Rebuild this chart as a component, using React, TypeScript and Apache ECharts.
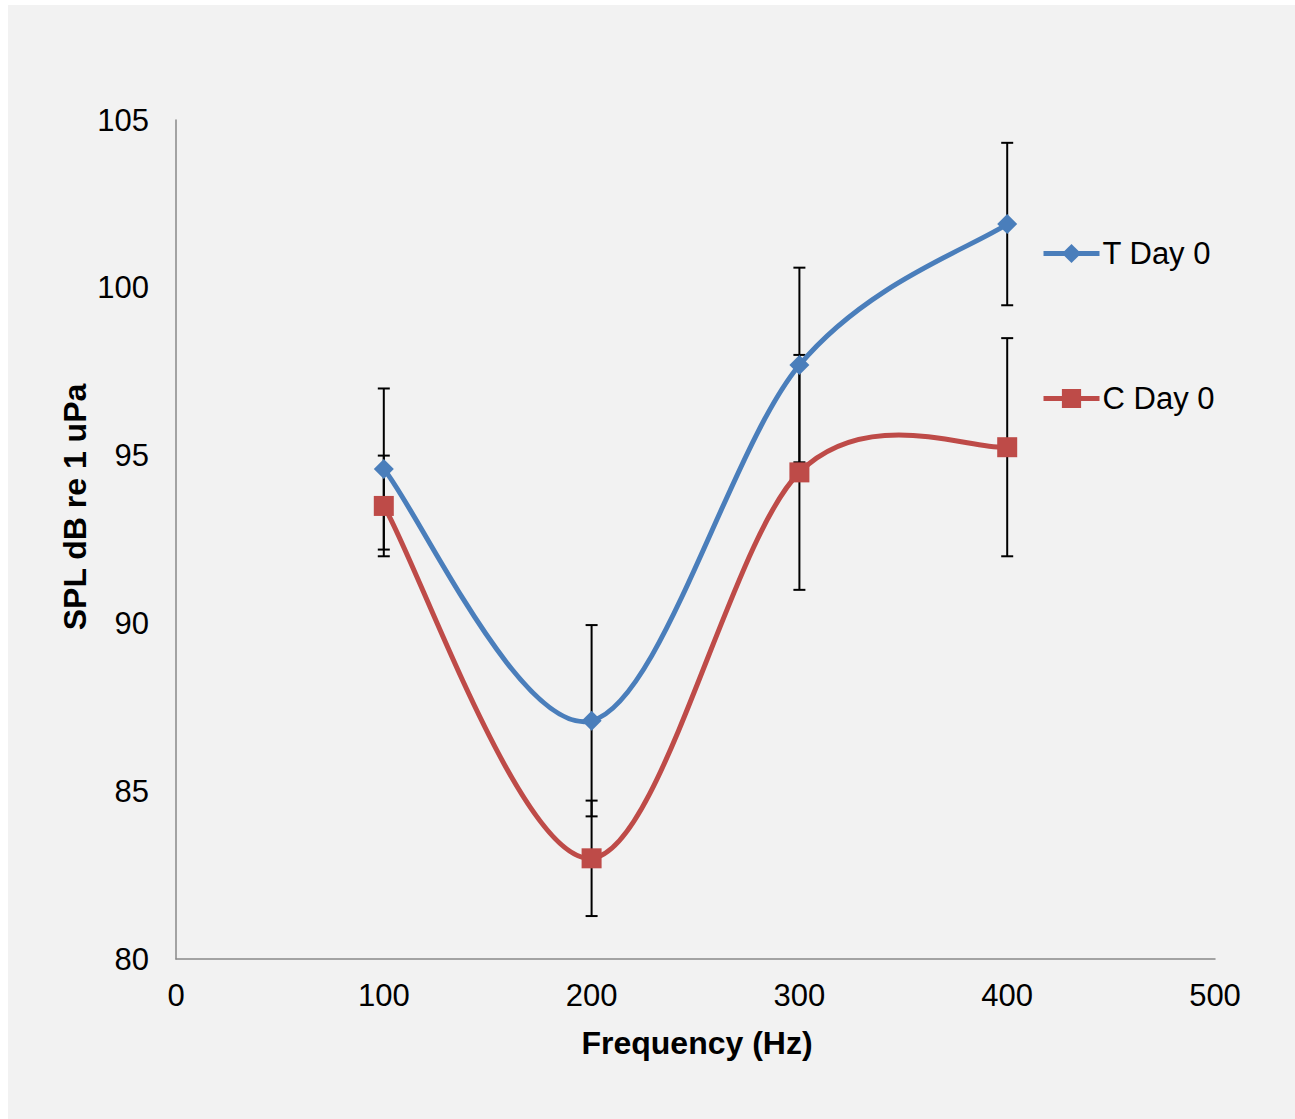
import React, { useEffect, useRef } from "react";
import * as echarts from "echarts";

const frequencies = [100, 200, 300, 400];
const tValues = [94.6, 87.1, 97.7, 101.9];
const tErrors = [2.4, 2.85, 2.9, 2.42];
const cValues = [93.5, 83.0, 94.5, 95.25];
const cErrors = [1.5, 1.72, 3.5, 3.25];
const xTicks = [0, 100, 200, 300, 400, 500];
const yTicks = [80, 85, 90, 95, 100, 105];
const seriesNames = ["T Day 0", "C Day 0"];
const xTitle = "Frequency (Hz)";
const yTitle = "SPL dB re 1 uPa";

const FONT = "'Liberation Sans', Arial, sans-serif";
const BLUE = "#4a7ebb";
const RED = "#be4b48";

function errorData(values: number[], errs: number[]) {
  return frequencies.map((f, i) => [f, values[i] - errs[i], values[i] + errs[i]]);
}

function renderErrorBar(params: any, api: any) {
  const x = api.value(0);
  const lo = api.coord([x, api.value(1)]);
  const hi = api.coord([x, api.value(2)]);
  const hw = 6;
  const style = { stroke: "#000", lineWidth: 2 };
  return {
    type: "group",
    children: [
      { type: "line", shape: { x1: lo[0], y1: lo[1], x2: hi[0], y2: hi[1] }, style },
      { type: "line", shape: { x1: lo[0] - hw, y1: lo[1], x2: lo[0] + hw, y2: lo[1] }, style },
      { type: "line", shape: { x1: hi[0] - hw, y1: hi[1], x2: hi[0] + hw, y2: hi[1] }, style },
    ],
  };
}

// Excel-style smoothed line (Catmull-Rom Bezier, 1/6 tangents)
function makeCurveRenderer(values: number[], color: string) {
  const n = values.length;
  return function (params: any, api: any) {
    const i = params.dataIndex;
    if (i >= n - 1) return { type: "group", children: [] };
    const pts = frequencies.map((f, k) => api.coord([f, values[k]]));
    const tan = (k: number) => {
      const prev = pts[Math.max(0, k - 1)];
      const next = pts[Math.min(n - 1, k + 1)];
      return [(next[0] - prev[0]) / 6, (next[1] - prev[1]) / 6];
    };
    const p0 = pts[i];
    const p1 = pts[i + 1];
    const m0 = tan(i);
    const m1 = tan(i + 1);
    return {
      type: "bezierCurve",
      shape: {
        x1: p0[0],
        y1: p0[1],
        cpx1: p0[0] + m0[0],
        cpy1: p0[1] + m0[1],
        cpx2: p1[0] - m1[0],
        cpy2: p1[1] - m1[1],
        x2: p1[0],
        y2: p1[1],
      },
      style: { stroke: color, lineWidth: 5, fill: "none", lineCap: "round" },
    };
  };
}

export default function App() {
  const ref = useRef<HTMLDivElement>(null);
  useEffect(() => {
    if (!ref.current) return;
    const chart = echarts.init(ref.current, null, { renderer: "svg" });
    chart.setOption({
      animation: false,
      backgroundColor: "#f2f2f2",
      textStyle: { fontFamily: FONT },
      grid: { left: 168, top: 115, width: 1039, height: 839, containLabel: false },
      xAxis: {
        type: "value",
        min: xTicks[0],
        max: xTicks[xTicks.length - 1],
        interval: 100,
        axisLine: { show: true, lineStyle: { color: "#898989", width: 1.5 } },
        axisTick: { show: false },
        splitLine: { show: false },
        axisLabel: { color: "#000", fontSize: 31, fontFamily: FONT, margin: 21 },
      },
      yAxis: {
        type: "value",
        min: yTicks[0],
        max: yTicks[yTicks.length - 1],
        interval: 5,
        axisLine: { show: true, lineStyle: { color: "#898989", width: 1.5 } },
        axisTick: { show: false },
        splitLine: { show: false },
        axisLabel: { color: "#000", fontSize: 31, fontFamily: FONT, margin: 27 },
      },
      legend: {
        orient: "vertical",
        left: 1033,
        top: 233,
        padding: 0,
        itemWidth: 56,
        itemHeight: 24,
        itemGap: 114,
        data: seriesNames,
        lineStyle: { width: 5, opacity: 1 },
        textStyle: { color: "#000", fontSize: 31, fontFamily: FONT, lineHeight: 30, padding: [0, 0, 0, -2] },
      },
      graphic: [
        {
          type: "text",
          x: 689,
          y: 1038,
          style: {
            text: xTitle,
            fill: "#000",
            font: `bold 32px ${FONT}`,
            textAlign: "center",
            textVerticalAlign: "middle",
          },
        },
        {
          type: "text",
          x: 67,
          y: 502,
          rotation: Math.PI / 2,
          style: {
            text: yTitle,
            fill: "#000",
            font: `bold 32px ${FONT}`,
            textAlign: "center",
            textVerticalAlign: "middle",
          },
        },
      ],
      series: [
        {
          type: "custom",
          name: "T err",
          renderItem: renderErrorBar,
          data: errorData(tValues, tErrors),
          encode: { x: 0, y: [1, 2] },
          z: 1,
        },
        {
          type: "custom",
          name: "C err",
          renderItem: renderErrorBar,
          data: errorData(cValues, cErrors),
          encode: { x: 0, y: [1, 2] },
          z: 1,
        },
        {
          type: "custom",
          name: "T curve",
          renderItem: makeCurveRenderer(tValues, BLUE),
          data: frequencies.map((f, i) => [f, tValues[i]]),
          encode: { x: 0, y: 1 },
          z: 2,
        },
        {
          type: "custom",
          name: "C curve",
          renderItem: makeCurveRenderer(cValues, RED),
          data: frequencies.map((f, i) => [f, cValues[i]]),
          encode: { x: 0, y: 1 },
          z: 2,
        },
        {
          type: "line",
          name: seriesNames[0],
          data: frequencies.map((f, i) => [f, tValues[i]]),
          symbol: "diamond",
          symbolSize: 20,
          itemStyle: { color: BLUE },
          lineStyle: { color: BLUE, width: 5, opacity: 0 },
          z: 3,
        },
        {
          type: "line",
          name: seriesNames[1],
          data: frequencies.map((f, i) => [f, cValues[i]]),
          symbol: "rect",
          symbolSize: 20,
          itemStyle: { color: RED },
          lineStyle: { color: RED, width: 5, opacity: 0 },
          z: 3,
        },
      ],
    });
    return () => chart.dispose();
  }, []);
  return (
    <div
      ref={ref}
      style={{ position: "absolute", left: 8, top: 5, width: 1287, height: 1114 }}
    />
  );
}
